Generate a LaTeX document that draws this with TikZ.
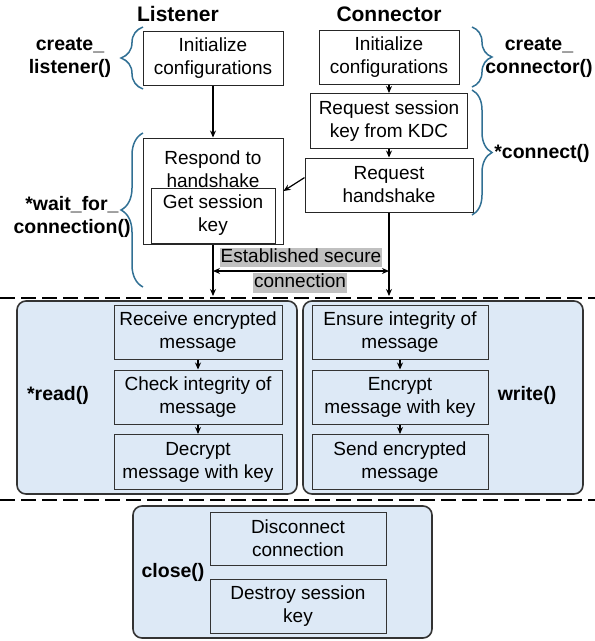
\documentclass[tikz,border=0pt]{standalone}
\usepackage{fontspec}
\setmainfont{Liberation Sans}
\usepackage{tikz}
\usetikzlibrary{positioning,arrows.meta,decorations.pathreplacing}
\definecolor{braceblue}{RGB}{49,112,148}
\definecolor{panelblue}{RGB}{221,233,246}
\definecolor{hlgray}{RGB}{192,192,192}

\tikzset{
  box/.style={draw=black!85, line width=1pt, fill=white, align=center, inner sep=0pt,
    font=\fontsize{19}{23}\selectfont},
  inbox/.style={box, draw=black!80, fill=panelblue},
  panel/.style={draw=black!80, line width=1.6pt, rounded corners=9pt, fill=panelblue, inner sep=0pt},
  fname/.style={font=\fontsize{19.5}{23}\selectfont\bfseries, align=center},
  hdr/.style={font=\fontsize{21}{24}\selectfont\bfseries},
  brc/.style={draw=braceblue, line width=1.5pt, decorate, decoration={brace, amplitude=22pt}},
  flow/.style={->, line width=1.2pt},
  cut/.style={dash pattern=on 15pt off 6pt, line width=1.5pt},
  hl/.style={fill=hlgray, inner xsep=1pt, inner ysep=0.5pt, text height=14pt, text depth=4.5pt,
    font=\fontsize{19}{23}\selectfont}
}

\begin{document}
\begin{tikzpicture}[x=1pt, y=-1pt, >={Stealth[length=7pt,width=6pt]}, node distance=64pt]
        \useasboundingbox (0,0) rectangle (595,641);

        \node[hdr] (lhead) at (178,14) {Listener};
        \node[hdr] (chead) at (389,14) {Connector};

        \node[box, minimum width=140pt, minimum height=54pt] (linit) at (213,58) {Initialize\\configurations};
        \node[box, minimum width=140pt, minimum height=106pt] (respond) at (213,191) {};
        \node[font=\fontsize{19}{23}\selectfont, align=center, inner sep=0pt] (resptxt) at (213,169) {Respond to\\handshake};
        \node[box, minimum width=124pt, minimum height=55pt] (getkey) at (213,215.5) {Get session\\key};

        \node[box, minimum width=140pt, minimum height=54pt] (cinit) at (389,57) {Initialize\\configurations};
        \node[box, minimum width=157pt, minimum height=55pt] (reqkey) [below of=cinit] {Request session\\key from KDC};
        \node[box, minimum width=168pt, minimum height=54pt] (reqhs) [below of=reqkey] {Request\\handshake};

        \draw[brc] (143,89) -- (143,27);
        \draw[brc] (143,287) -- (143,133);
        \draw[brc, decoration={amplitude=20pt}] (472,27) -- (472,87);
        \draw[brc, decoration={amplitude=20pt}] (472,90) -- (472,215);

        \node[fname] (lcreate) at (70,58) {create\_\\listener()};
        \node[fname] (lwait) at (72,216.5) {*wait\_for\_\\connection()};
        \node[fname] (ccreate) at (539,58) {create\_\\connector()};
        \node[fname] (cconn) at (542,153) {*connect()};

        \coordinate (cut1) at (0,296);
        \coordinate (mid) at (300,271);
        \draw[flow] (linit) -- (respond);
        \draw[flow] (cinit) -- (reqkey);
        \draw[flow] (reqkey) -- (reqhs);
        \draw[flow] (reqhs.175) -- (respond.east);
        \draw[flow] (respond) -- (respond |- cut1);
        \draw[flow] (reqhs) -- (reqhs |- cut1);
        \draw[<->, line width=1.2pt] (mid -| respond) -- (mid -| reqhs);
        \node[hl] (estab) at (301,257.5) {Established secure};
        \node[hl] (estconn) at (300,283) {connection};

        \draw[cut] (0,298) -- (595,298);

        \node[panel, minimum width=280pt, minimum height=193pt] (readp) at (157,397.5) {};
        \node[panel, minimum width=280pt, minimum height=193pt] (writep) at (443,397.5) {};
        \node[fname] (readlbl) at (58,395) {*read()};
        \node[fname] (writelbl) at (527,395) {write()};

        \begin{scope}[node distance=65pt]
        \node[inbox, minimum width=168pt, minimum height=54pt] (recv) at (198,332) {Receive encrypted\\message};
        \node[inbox, minimum width=168pt, minimum height=54pt] (check) [below of=recv] {Check integrity of\\message};
        \node[inbox, minimum width=168pt, minimum height=55pt] (decrypt) [below of=check] {Decrypt\\message with key};
        \node[inbox, minimum width=176pt, minimum height=54pt] (ensure) at (400,332) {Ensure integrity of\\message};
        \node[inbox, minimum width=176pt, minimum height=54pt] (encrypt) [below of=ensure] {Encrypt\\message with key};
        \node[inbox, minimum width=176pt, minimum height=55pt] (send) [below of=encrypt] {Send encrypted\\message};
        \end{scope}
        \draw[flow] (recv) -- (check);
        \draw[flow] (check) -- (decrypt);
        \draw[flow] (ensure) -- (encrypt);
        \draw[flow] (encrypt) -- (send);

        \draw[cut] (0,500) -- (595,500);

        \node[panel, minimum width=299pt, minimum height=132pt] (closep) at (282.5,572) {};
        \node[fname] (closelbl) at (173,572) {close()};
        \node[inbox, minimum width=176pt, minimum height=53pt] (disc) at (298,538.5) {Disconnect\\connection};
        \node[inbox, minimum width=176pt, minimum height=54pt] (destroy) [below of=disc, node distance=67.5pt] {Destroy session\\key};
\end{tikzpicture}
\end{document}
